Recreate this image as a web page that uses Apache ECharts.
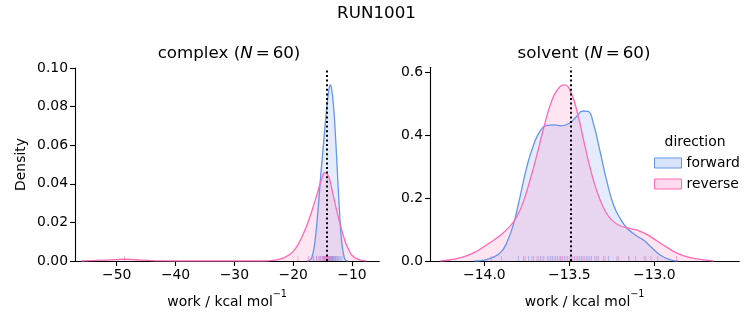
<!DOCTYPE html>
<html>
<head>
<meta charset="utf-8">
<script src="https://cdn.jsdelivr.net/npm/echarts@6/dist/echarts.min.js"></script>
<style>html,body{margin:0;padding:0;background:#fff}#c{width:753px;height:325px}</style>
</head>
<body>
<div id="c"></div>
<script>
// ---- data ----
var complexForwardKde = [[-17.6,0],[-17.2,0.0004],[-16.8,0.002],[-16.3,0.010],[-15.75,0.0275],[-15.3,0.0446],[-14.8,0.062],[-14.3,0.079],[-13.95,0.088],[-13.7,0.0912],[-13.45,0.089],[-13.1,0.079],[-12.75,0.062],[-12.45,0.0446],[-12.15,0.0275],[-11.75,0.010],[-11.3,0.0016],[-11.0,0.0003],[-10.7,0]];
var complexReverseKde = [[-56,0],[-54.5,0.0002],[-52,0.0005],[-50,0.0007],[-48.8,0.0009],[-47.5,0.0008],[-46,0.0005],[-44,0.0002],[-42,0.00005],[-40,0],[-30,0],[-25,0],[-23.5,0.0003],[-22,0.0012],[-21,0.0026],[-20,0.005],[-19,0.0095],[-18,0.016],[-17.2,0.0225],[-16.5,0.029],[-15.8,0.036],[-15.2,0.042],[-14.6,0.0458],[-14.0,0.044],[-13.4,0.037],[-12.7,0.0275],[-12.0,0.019],[-11.2,0.0105],[-10.5,0.0055],[-10,0.003],[-9.2,0.0012],[-8.5,0.0004],[-7.5,0]];
var solventForwardKde = [[-14.06,0],[-14.0,0.003],[-13.94,0.014],[-13.9,0.03],[-13.87,0.056],[-13.83,0.115],[-13.79,0.205],[-13.75,0.30],[-13.71,0.37],[-13.67,0.415],[-13.63,0.431],[-13.59,0.433],[-13.55,0.43],[-13.5,0.438],[-13.46,0.458],[-13.42,0.477],[-13.39,0.476],[-13.36,0.44],[-13.32,0.35],[-13.28,0.255],[-13.24,0.178],[-13.2,0.134],[-13.16,0.104],[-13.11,0.082],[-13.06,0.065],[-13.02,0.045],[-12.98,0.025],[-12.94,0.011],[-12.9,0.003],[-12.86,0]];
var solventReverseKde = [[-14.26,0],[-14.2,0.004],[-14.15,0.009],[-14.07,0.024],[-13.99,0.05],[-13.91,0.08],[-13.85,0.11],[-13.81,0.14],[-13.77,0.19],[-13.73,0.26],[-13.69,0.34],[-13.65,0.425],[-13.61,0.50],[-13.57,0.545],[-13.53,0.56],[-13.49,0.535],[-13.45,0.465],[-13.41,0.37],[-13.37,0.28],[-13.33,0.21],[-13.29,0.16],[-13.25,0.13],[-13.2,0.112],[-13.14,0.103],[-13.09,0.096],[-13.04,0.083],[-12.99,0.066],[-12.93,0.045],[-12.87,0.026],[-12.8,0.012],[-12.73,0.005],[-12.65,0]];

var complexForwardRug = [-16.5,-16.0,-15.6,-15.3,-15.0,-14.8,-14.6,-14.4,-14.2,-14.0,-13.9,-13.8,-13.7,-13.6,-13.5,-13.4,-13.3,-13.2,-13.1,-13.0,-12.8,-12.6,-12.4,-12.2,-12.0,-11.7];
var complexReverseRug = [-48.7,-19.2,-17.4,-16.6,-16.0,-15.6,-15.3,-15.0,-14.8,-14.7,-14.6,-14.5,-14.4,-14.3,-14.2,-14.1,-14.0,-13.8,-13.6,-13.4,-13.1,-12.8,-12.5];
var solventForwardRug = [-13.80,-13.77,-13.74,-13.71,-13.69,-13.67,-13.65,-13.63,-13.61,-13.60,-13.58,-13.56,-13.55,-13.53,-13.51,-13.49,-13.47,-13.45,-13.43,-13.42,-13.40,-13.39,-13.37,-13.35,-13.33,-13.30,-13.27,-13.22,-13.15,-13.05];
var solventReverseRug = [-13.96,-13.90,-13.76,-13.72,-13.68,-13.66,-13.62,-13.59,-13.57,-13.55,-13.54,-13.52,-13.50,-13.48,-13.46,-13.44,-13.41,-13.38,-13.34,-13.29,-13.21,-13.15,-13.11,-13.06,-13.02,-12.98,-12.87];

var complexMean = -14.3;
var solventMean = -13.495;

var complexXTicks = [-50,-40,-30,-20,-10];
var complexYTicks = [0,0.02,0.04,0.06,0.08,0.10];
var solventXTicks = [-14.0,-13.5,-13.0];
var solventYTicks = [0,0.2,0.4,0.6];

// ---- styling ----
var FONT = 'DejaVu Sans';
var BLUE = '#6495ED', PINK = '#FF69B4';
var BLUE_FILL = 'rgba(100,149,237,0.25)', PINK_FILL = 'rgba(255,105,180,0.25)';
function fmt(v, d){ return v.toFixed(d).replace('-', '\u2212'); }

function xAxis(grid, min, max, ticks, dec){
  return {
    type:'value', gridIndex:grid, min:min, max:max,
    axisLine:{show:true, lineStyle:{color:'#000', width:1.1}},
    axisTick:{show:true, length:5, lineStyle:{color:'#000', width:1.1}, customValues:ticks},
    axisLabel:{customValues:ticks, color:'#000', fontFamily:FONT, fontSize:13.9, margin:7,
      formatter:function(v){ return fmt(v, dec); }},
    splitLine:{show:false},
    name:'{a|work / kcal mol}{s|\u22121}', nameLocation:'middle', nameGap:28,
    nameTextStyle:{rich:{
      a:{fontFamily:FONT, fontSize:13.9, color:'#000', lineHeight:20, verticalAlign:'bottom'},
      s:{fontFamily:FONT, fontSize:9.7, color:'#000', lineHeight:20, verticalAlign:'top'}
    }}
  };
}
function yAxis(grid, max, ticks, dec, name){
  return {
    type:'value', gridIndex:grid, min:0, max:max,
    axisLine:{show:true, lineStyle:{color:'#000', width:1.1}},
    axisTick:{show:true, length:5, lineStyle:{color:'#000', width:1.1}, customValues:ticks},
    axisLabel:{customValues:ticks, color:'#000', fontFamily:FONT, fontSize:13.9, margin:7,
      formatter:function(v){ return fmt(v, dec); }},
    splitLine:{show:false},
    name:name||'', nameLocation:'middle', nameGap:47, nameRotate:90,
    nameTextStyle:{fontFamily:FONT, fontSize:13.9, color:'#000'}
  };
}
function kde(name, data, xi, color, fill, mean){
  var s = {
    name:name, type:'line', xAxisIndex:xi, yAxisIndex:xi, data:data,
    smooth:0.5, showSymbol:false, symbol:'none',
    lineStyle:{color:color, width:1.3}, itemStyle:{color:color},
    areaStyle:{color:fill, origin:'start'}, silent:true, z:2
  };
  if (mean !== undefined) {
    s.markLine = {silent:true, symbol:'none', label:{show:false},
      lineStyle:{color:'#000', type:[2,2.6], width:2}, data:[{xAxis:mean}], z:5};
  }
  return s;
}
function rug(name, vals, xi, color){
  return {
    name:name, type:'scatter', xAxisIndex:xi, yAxisIndex:xi,
    data:vals.map(function(v){ return [v,0]; }),
    symbol:'rect', symbolSize:[1,5], symbolOffset:[0,-2.5], clip:false,
    itemStyle:{color:color, opacity:0.5}, silent:true, z:3
  };
}

var chart = echarts.init(document.getElementById('c'), null, {renderer:'canvas'});
chart.setOption({
  animation:false,
  backgroundColor:'#fff',
  grid:[
    {left:75, top:68, width:304.3, height:193},
    {left:430, top:67.3, width:309.3, height:193.7}
  ],
  xAxis:[ xAxis(0, -57.1, -5.35, complexXTicks, 0), xAxis(1, -14.32, -12.50, solventXTicks, 1) ],
  yAxis:[ yAxis(0, 0.10, complexYTicks, 2, 'Density'), yAxis(1, 0.616, solventYTicks, 1) ],
  legend:{
    show:true, orient:'vertical', left:649, top:151, itemWidth:27, itemHeight:10, itemGap:7,
    icon:'rect', textStyle:{fontFamily:FONT, fontSize:13.9, color:'#000'}, selectedMode:false,
    data:[
      {name:'forward', itemStyle:{color:BLUE_FILL, borderColor:BLUE, borderWidth:1}},
      {name:'reverse', itemStyle:{color:PINK_FILL, borderColor:PINK, borderWidth:1}}
    ]
  },
  graphic:[
    {type:'text', left:'center', top:5, style:{text:'RUN1001', fontFamily:FONT, fontSize:16.7, fill:'#000'}},
    {type:'text', x:229, y:54, style:{text:'{a|complex (}{i|N}{b|=}{a|60)}', align:'center', verticalAlign:'middle',
      rich:{a:{fontFamily:FONT, fontSize:16.7, color:'#000'}, b:{fontFamily:FONT, fontSize:16.7, color:'#000', padding:[0,3,0,3]}, i:{fontFamily:FONT, fontStyle:'italic', fontSize:16.7, color:'#000'}}}},
    {type:'text', x:584, y:54, style:{text:'{a|solvent (}{i|N}{b|=}{a|60)}', align:'center', verticalAlign:'middle',
      rich:{a:{fontFamily:FONT, fontSize:16.7, color:'#000'}, b:{fontFamily:FONT, fontSize:16.7, color:'#000', padding:[0,3,0,3]}, i:{fontFamily:FONT, fontStyle:'italic', fontSize:16.7, color:'#000'}}}},
    {type:'text', x:695, y:142, style:{text:'direction', align:'center', verticalAlign:'middle', fontFamily:FONT, fontSize:13.9, fill:'#000'}}
  ],
  series:[
    kde('forward', complexForwardKde, 0, BLUE, BLUE_FILL, complexMean),
    kde('reverse', complexReverseKde, 0, PINK, PINK_FILL),
    rug('forward rug', complexForwardRug, 0, BLUE),
    rug('reverse rug', complexReverseRug, 0, PINK),
    kde('forward', solventForwardKde, 1, BLUE, BLUE_FILL, solventMean),
    kde('reverse', solventReverseKde, 1, PINK, PINK_FILL),
    rug('forward rug', solventForwardRug, 1, BLUE),
    rug('reverse rug', solventReverseRug, 1, PINK)
  ]
});
</script>
</body>
</html>
